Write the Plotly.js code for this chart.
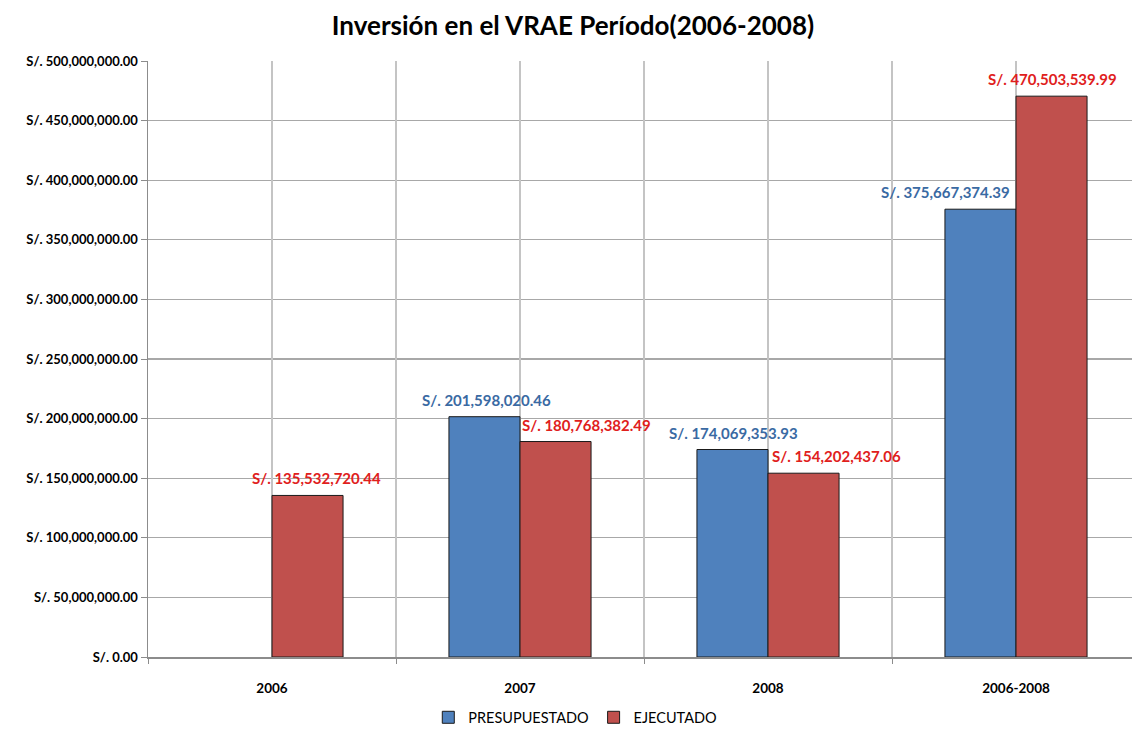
<!DOCTYPE html>
<html><head><meta charset="utf-8">
<script src="https://cdn.plot.ly/plotly-3.0.1.min.js"></script>
<style>html,body{margin:0;padding:0;overflow:hidden;background:#fff}</style>
</head><body><div id="chart"></div>
<script>
const categories = ["2006", "2007", "2008", "2006-2008"];
const presupuestado = [null, 201598020.46, 174069353.93, 375667374.39];
const ejecutado = [135532720.44, 180768382.49, 154202437.06, 470503539.99];
const seriesNames = ["PRESUPUESTADO", "EJECUTADO"];
const yTickPrefix = "S/. ";

// label horizontal offsets (px), styling only
const shiftP = [0, 2, 1, -35];
const shiftE = [9, 31, 33, 1];

function fmt(v){
  return "S/. " + v.toLocaleString("en-US",{minimumFractionDigits:2,maximumFractionDigits:2});
}

const font = "Lato, 'Open Sans', sans-serif";
const blue = "#4f81bd", red = "#c0504d";

const traces = [
  {type:"bar", name:seriesNames[0], x:categories, y:presupuestado,
   marker:{color:blue, line:{color:"#1a1a1a", width:1}}, hoverinfo:"none"},
  {type:"bar", name:seriesNames[1], x:categories, y:ejecutado,
   marker:{color:red, line:{color:"#1a1a1a", width:1}}, hoverinfo:"none"},
  {type:"scatter", x:[-0.5], y:[0], xaxis:"x2", yaxis:"y", mode:"markers",
   marker:{opacity:0}, showlegend:false, hoverinfo:"none"}
];

const annotations = [];
categories.forEach((c,i)=>{
  if (presupuestado[i] != null) annotations.push({x:i, y:presupuestado[i], xref:"x", yref:"y",
    text:fmt(presupuestado[i]), showarrow:false, yanchor:"bottom", yshift:6, xshift:-35.75+shiftP[i],
    font:{family:font, size:15, color:"#3a6aa3", weight:"bold"}});
  annotations.push({x:i, y:ejecutado[i], xref:"x", yref:"y",
    text:fmt(ejecutado[i]), showarrow:false, yanchor:"bottom", yshift:6, xshift:35.75+shiftE[i],
    font:{family:font, size:15, color:"#e0201c", weight:"bold"}});
});

const layout = {
  width:1146, height:735,
  margin:{l:148, r:6, t:61, b:78, autoexpand:false},
  paper_bgcolor:"#fff", plot_bgcolor:"#fff",
  title:{text:"<b>Inversión en el VRAE Período(2006-2008)</b>", x:0.5, xanchor:"center", y:0.965, yanchor:"middle",
    font:{family:font, size:26, color:"#000"}},
  barmode:"group", bargap:0.427, bargroupgap:0,
  showlegend:true,
  legend:{orientation:"h", xref:"container", yref:"container", x:0.502, xanchor:"center", y:0.024, yanchor:"middle",
    font:{family:font, size:14.5, color:"#000"}, itemwidth:30, traceorder:"normal"},
  xaxis:{type:"category", range:[-0.5,3.5], showgrid:false, tickson:"boundaries", ticks:"outside",
    ticklen:5, tickcolor:"#8c8c8c", showline:true, linecolor:"#8c8c8c", linewidth:1.5,
    ticklabelstandoff:18, automargin:false,
    tickfont:{family:font, size:13.5, color:"#000", weight:"bold"}, zeroline:false, fixedrange:true},
  xaxis2:{overlaying:"x", range:[-0.5,3.5], tick0:-0.5, dtick:0.5, showgrid:true, gridcolor:"#c4c4c4",
    gridwidth:1.3, showticklabels:false, ticks:"", zeroline:false, showline:false},
  yaxis:{range:[0,500000000], dtick:50000000, tickprefix:yTickPrefix, tickformat:",.2f",
    showgrid:true, gridcolor:"#a8a8a8", gridwidth:1.3, ticks:"outside", ticklen:6, tickcolor:"#8c8c8c",
    showline:true, linecolor:"#8c8c8c", linewidth:1.5, zeroline:false, automargin:false,
    tickfont:{family:font, size:13, color:"#000", weight:"bold"}},
  annotations:annotations
};

Plotly.newPlot("chart", traces, layout, {displayModeBar:false, staticPlot:true});
</script></body></html>
